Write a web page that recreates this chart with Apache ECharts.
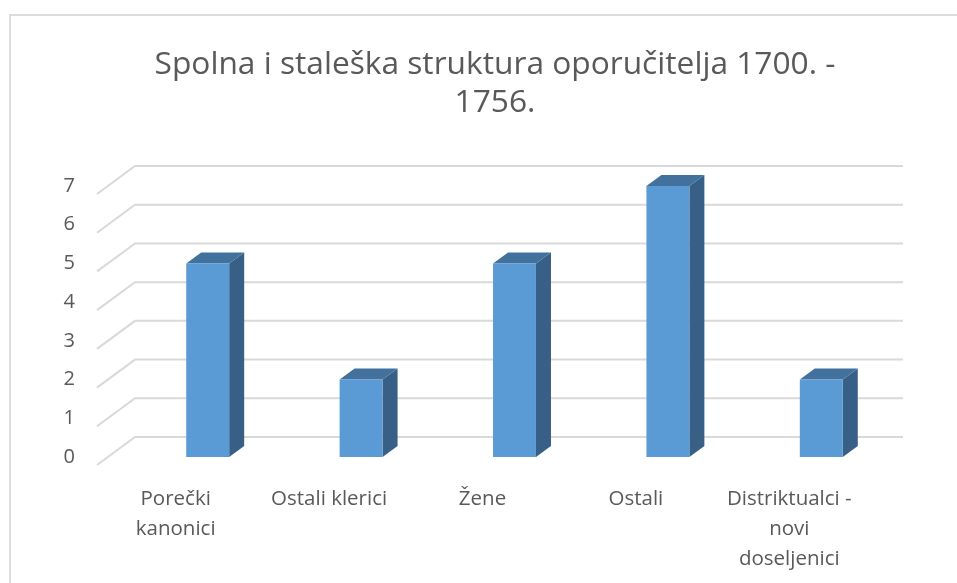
<!DOCTYPE html>
<html>
<head>
<meta charset="utf-8">
<script src="https://cdn.jsdelivr.net/npm/echarts@6/dist/echarts.min.js"></script>
<style>
  html, body { margin: 0; padding: 0; background: #fff; }
  #main { width: 957px; height: 583px; }
</style>
</head>
<body>
<div id="main"></div>
<script>
var titleText = 'Spolna i staleška struktura oporučitelja 1700. -\n1756.';
var categories = ['Porečki\nkanonici', 'Ostali klerici', 'Žene', 'Ostali', 'Distriktualci -\nnovi\ndoseljenici'];
var values = [5, 2, 5, 7, 2];
var gridValues = [0, 1, 2, 3, 4, 5, 6, 7];

var FRONT = '#5b9bd5';
var TOP = '#41719c';
var SIDE = '#385f86';
var DX = 15, DY = 11;

// floor/back wall lines, slanted at the left like the excel 3d chart
function renderGrid(params, api) {
    var v = api.value(0);
    var p = api.coord([0, v]);
    var band = api.size([1, 0])[0];
    var left = p[0] - band / 2;
    var right = left + band * categories.length;
    return {
        type: 'polyline',
        shape: {
            points: [
                [left - 34, p[1] + 8],
                [left + 4, p[1] - 20],
                [right + 5, p[1] - 20]
            ]
        },
        style: { stroke: '#d9d9d9', lineWidth: 2, fill: null },
        silent: true
    };
}

function renderBar(params, api) {
    var top = api.coord([api.value(0), api.value(1)]);
    var base = api.coord([api.value(0), 0]);
    var w = api.size([1, 0])[0] * 0.28;
    var x1 = top[0] - w / 2, x2 = top[0] + w / 2;
    var yT = top[1], yB = base[1];
    return {
        type: 'group',
        children: [
            {
                type: 'polygon',
                shape: { points: [[x2, yT], [x2 + DX, yT - DY], [x2 + DX, yB - DY], [x2, yB]] },
                style: { fill: SIDE }
            },
            {
                type: 'polygon',
                shape: { points: [[x1, yT], [x1 + DX, yT - DY], [x2 + DX, yT - DY], [x2, yT]] },
                style: { fill: TOP }
            },
            {
                type: 'rect',
                shape: { x: x1, y: yT, width: w, height: yB - yT },
                style: { fill: FRONT }
            }
        ]
    };
}

var myChart = echarts.init(document.getElementById('main'));
var option = {
    backgroundColor: '#fff',
    animation: false,
    graphic: [{
        type: 'rect',
        shape: { x: 10, y: 15, width: 1000, height: 700 },
        style: { fill: null, stroke: '#dcdcdc', lineWidth: 2 },
        silent: true
    }],
    title: {
        text: titleText,
        left: 490,
        top: 41,
        textAlign: 'center',
        textStyle: {
            fontFamily: 'Open Sans',
            fontSize: 31.7,
            fontWeight: 'normal',
            color: '#595959',
            lineHeight: 38
        }
    },
    grid: {
        left: 131,
        right: 59,
        top: 186,
        bottom: 126
    },
    xAxis: {
        type: 'category',
        data: categories,
        axisLine: { show: false },
        axisTick: { show: false },
        splitLine: { show: false },
        axisLabel: {
            interval: 0,
            margin: 27,
            padding: [0, 64, 0, 0],
            fontFamily: 'Open Sans',
            fontSize: 20.5,
            color: '#595959',
            lineHeight: 30,
            align: 'center'
        }
    },
    yAxis: {
        type: 'value',
        min: 0,
        max: 7,
        interval: 1,
        axisLine: { show: false },
        axisTick: { show: false },
        splitLine: { show: false },
        axisLabel: {
            margin: 56,
            padding: [16, 0, 0, 0],
            fontFamily: 'Open Sans',
            fontSize: 20,
            color: '#595959'
        }
    },
    series: [
        {
            type: 'custom',
            renderItem: renderGrid,
            data: gridValues,
            encode: { y: 0 },
            z: 1
        },
        {
            type: 'custom',
            renderItem: renderBar,
            data: values.map(function(v, i) { return [i, v]; }),
            encode: { x: 0, y: 1 },
            z: 2
        }
    ]
};
myChart.setOption(option);
</script>
</body>
</html>
